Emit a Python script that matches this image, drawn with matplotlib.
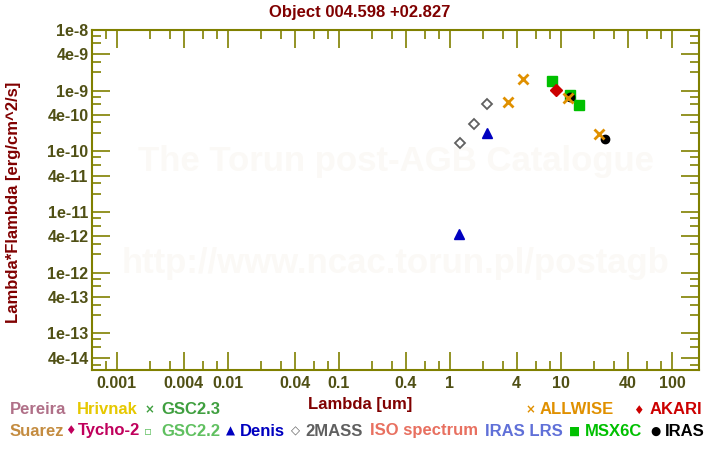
import matplotlib
matplotlib.use("Agg")
import matplotlib.pyplot as plt
from matplotlib.ticker import FixedLocator, FixedFormatter, NullFormatter

# ---------------- data ----------------
twomass_wl = [1.235, 1.662, 2.159]
twomass_f = [1.38e-10, 2.85e-10, 6.07e-10]

denis_wl = [1.22, 2.15]
denis_f = [4.4e-12, 2.0e-10]

msx_wl = [8.28, 12.13, 14.65]
msx_f = [1.43e-9, 8.5e-10, 5.77e-10]

akari_wl = [9.0]
akari_f = [1.02e-9]

iras_wl = [12.0, 25.0]
iras_f = [7.9e-10, 1.59e-10]

allwise_wl = [3.35, 4.6, 11.56, 22.08]
allwise_f = [6.47e-10, 1.55e-9, 7.53e-10, 1.92e-10]

x_major = [0.001, 0.004, 0.01, 0.04, 0.1, 0.4, 1, 4, 10, 40, 100]
x_labels = ["0.001", "0.004", "0.01", "0.04", "0.1", "0.4", "1", "4", "10", "40", "100"]
y_major = [1e-8, 4e-9, 1e-9, 4e-10, 1e-10, 4e-11, 1e-11, 4e-12, 1e-12, 4e-13, 1e-13, 4e-14]
y_labels = ["1e-8", "4e-9", "1e-9", "4e-10", "1e-10", "4e-11", "1e-11", "4e-12",
            "1e-12", "4e-13", "1e-13", "4e-14"]
minor_mult = [2, 3, 6, 8]

title = "Object 004.598 +02.827"
xlabel = "Lambda [um]"
ylabel = "Lambda*Flambda [erg/cm^2/s]"
watermark1 = "The Torun post-AGB Catalogue"
watermark2 = "http://www.ncac.torun.pl/postagb"

# ---------------- style ----------------
FONT = ["Liberation Sans", "DejaVu Sans"]
plt.rcParams["font.family"] = FONT
plt.rcParams["font.weight"] = "bold"

DARKRED = "#800000"
OLIVE = "#808000"
TICKTXT = "#505015"

fig = plt.figure(figsize=(7.2, 4.5), dpi=100)
ax = fig.add_axes([92 / 720, 1 - 370 / 450, (699 - 92) / 720, (370 - 30) / 450])
ax.set_xscale("log")
ax.set_yscale("log")
ax.set_xlim(6.0e-4, 175)
ax.set_ylim(2.5e-14, 1e-8)

# watermark
ax.text(0.5, 1 - (162 - 30) / 340, watermark1, transform=ax.transAxes, ha="center",
        va="center", fontsize=25, fontweight="bold", color="#fbf9f6", zorder=0)
ax.text(0.5, 1 - (263 - 30) / 340, watermark2, transform=ax.transAxes, ha="center",
        va="center", fontsize=25, fontweight="bold", color="#fbf9f6", zorder=0)

# data
ax.plot(twomass_wl, twomass_f, ls="none", marker="D", ms=5.5, mfc="white",
        mec="#606060", mew=1.3, zorder=3)
ax.plot(denis_wl, denis_f, ls="none", marker="^", ms=6.5, color="#0000c0", zorder=3)
ax.plot(msx_wl, msx_f, ls="none", marker="s", ms=6.5, color="#00c000", zorder=3)
ax.plot(akari_wl, akari_f, ls="none", marker="D", ms=6, color="#cc0000", zorder=3)
ax.plot(iras_wl, iras_f, ls="none", marker="o", ms=6, color="black", zorder=4)
ax.plot(allwise_wl, allwise_f, ls="none", marker="x", ms=6.5, mew=2.0,
        color="#e09000", zorder=5)

# ticks
def minors(lo_exp, hi_exp):
    return [m * 10.0 ** e for e in range(lo_exp, hi_exp + 1) for m in minor_mult]

ax.xaxis.set_major_locator(FixedLocator(x_major))
ax.xaxis.set_major_formatter(FixedFormatter(x_labels))
ax.xaxis.set_minor_locator(FixedLocator(minors(-4, 2)))
ax.xaxis.set_minor_formatter(NullFormatter())
ax.yaxis.set_major_locator(FixedLocator(y_major))
ax.yaxis.set_major_formatter(FixedFormatter(y_labels))
ax.yaxis.set_minor_locator(FixedLocator(minors(-15, -9)))
ax.yaxis.set_minor_formatter(NullFormatter())

ax.tick_params(which="both", direction="in", top=True, right=True, color=OLIVE,
               width=1.2)
ax.tick_params(which="major", length=13)
ax.tick_params(which="minor", length=6.5)
ax.tick_params(axis="x", which="major", pad=4, labelsize=11.5, labelcolor=TICKTXT)
ax.tick_params(axis="y", which="major", pad=2.5, labelsize=11.5, labelcolor=TICKTXT)
for lab in ax.get_xticklabels() + ax.get_yticklabels():
    lab.set_fontweight("bold")
for s in ax.spines.values():
    s.set_color(OLIVE)
    s.set_linewidth(1.5)

# titles / labels
fig.text(360 / 720, 1 - 12 / 450, title, ha="center", va="center", fontsize=12,
         fontweight="bold", color=DARKRED)
fig.text(360 / 720, 1 - 405 / 450, xlabel, ha="center", va="center", fontsize=12,
         fontweight="bold", color=DARKRED)
fig.text(14 / 720, 1 - 202 / 450, ylabel, ha="center", va="center", rotation=90,
         fontsize=12, fontweight="bold", color=DARKRED)

# legend-like catalogue list
row1 = 1 - 410 / 450
row2 = 1 - 431 / 450
entries = [
    # (symbol, symbol_x, text, text_x, row, color)
    (None, None, "Pereira", 10, row1, "#b07088"),
    (None, None, "Hrivnak", 77, row1, "#e6c800"),
    ("\u00d7", 149, "GSC2.3", 161, row1, "#3f9f3f"),
    ("\u00d7", 530, "ALLWISE", 539.5, row1, "#e09000"),
    ("\u2666", 638, "AKARI", 650, row1, "#cc0000"),
    (None, None, "Suarez", 10, row2, "#c48c40"),
    ("\u2666", 70, "Tycho-2", 78, row2, "#c0005c"),
    ("\u25ab", 148, "GSC2.2", 161, row2, "#60c060"),
    ("\u25b2", 230.5, "Denis", 240, row2, "#0000c0"),
    ("\u25c7", 295, "2MASS", 305, row2, "#606060"),
    (None, None, "ISO spectrum", 370, row2, "#e87060"),
    (None, None, "IRAS LRS", 485, row2, "#6070d8"),
    ("\u25a0", 575, "MSX6C", 585, row2, "#00c000"),
    ("\u25cf", 655, "IRAS", 665, row2, "black"),
]
for sym, sx, txt, tx, ry, col in entries:
    if sym is not None:
        fig.text(sx / 720, ry, sym, ha="center", va="center", fontsize=8.5,
                 fontweight="bold", color=col, family=["DejaVu Sans"])
    fig.text(tx / 720, ry, txt, ha="left", va="center", fontsize=12,
             fontweight="bold", color=col)

fig.savefig("out.png", dpi=100)
